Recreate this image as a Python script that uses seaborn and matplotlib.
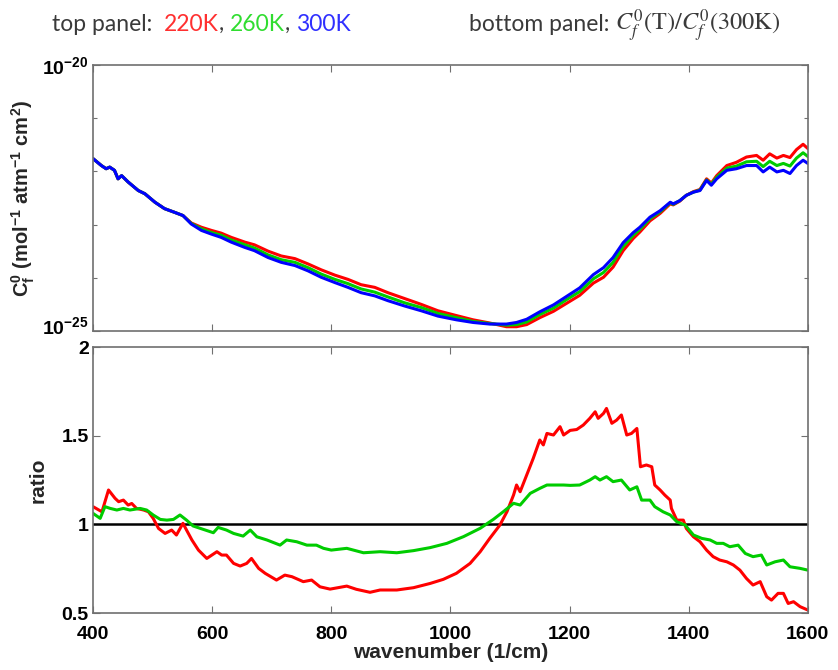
import numpy as np
import pandas as pd
import matplotlib
matplotlib.use("Agg")
import matplotlib.pyplot as plt
import matplotlib.ticker as mticker
import matplotlib.transforms as mtransforms
import seaborn as sns

# ---------------- data ----------------
# Top panel: log10 of the 300 K coefficient, and log10 offsets of 220 K / 260 K from it
wn_top = [400, 414, 422, 428, 436, 442, 448, 459, 476, 487, 504, 520, 537, 551,
          565, 582, 599, 615, 632, 655, 671, 694, 716, 739, 761, 783, 806, 828,
          850, 873, 895, 923, 951, 979, 1010, 1038, 1066, 1094, 1111, 1128, 1150,
          1173, 1195, 1217, 1240, 1257, 1273, 1290, 1307, 1318, 1335, 1352, 1369,
          1374, 1385, 1396, 1408, 1419, 1430, 1438, 1447, 1464, 1480, 1497, 1514,
          1525, 1536, 1548, 1559, 1570, 1581, 1592, 1600]
log_c300 = [-21.76, -21.89, -21.95, -21.92, -21.98, -22.14, -22.08, -22.20, -22.36,
            -22.42, -22.58, -22.70, -22.77, -22.83, -22.99, -23.11, -23.18, -23.24,
            -23.33, -23.43, -23.49, -23.62, -23.71, -23.77, -23.87, -23.99, -24.09,
            -24.18, -24.28, -24.34, -24.43, -24.53, -24.62, -24.72, -24.79, -24.84,
            -24.87, -24.87, -24.84, -24.78, -24.64, -24.51, -24.35, -24.19, -23.94,
            -23.81, -23.62, -23.34, -23.15, -23.05, -22.86, -22.74, -22.58, -22.61,
            -22.55, -22.45, -22.39, -22.36, -22.17, -22.26, -22.14, -21.98, -21.95,
            -21.89, -21.89, -22.01, -21.92, -22.01, -21.98, -22.04, -21.89, -21.79,
            -21.85]
dlog_220 = [0, 0, 0, 0, 0, 0, 0, 0, 0, 0, 0, 0, 0, 0,
            0.02, 0.06, 0.07, 0.08, 0.09, 0.10, 0.11, 0.12, 0.12, 0.13, 0.13, 0.14,
            0.14, 0.15, 0.15, 0.16, 0.15, 0.14, 0.12, 0.10, 0.08, 0.05, 0.02, -0.05,
            -0.08, -0.10, -0.11, -0.12, -0.13, -0.14, -0.16, -0.18, -0.18, -0.15,
            -0.11, -0.09, -0.07, -0.05, -0.03, -0.02, -0.01, 0.0, 0.01, 0.02, 0.03,
            0.04, 0.06, 0.09, 0.12, 0.16, 0.19, 0.22, 0.25, 0.26, 0.28, 0.30, 0.30,
            0.30, 0.28]
dlog_260 = [0, 0, 0, 0, 0, 0, 0, 0, 0, 0, 0, 0, 0, 0,
            0.01, 0.03, 0.03, 0.04, 0.04, 0.05, 0.05, 0.05, 0.05, 0.06, 0.06, 0.06,
            0.06, 0.07, 0.07, 0.07, 0.07, 0.06, 0.06, 0.05, 0.04, 0.02, 0.01, -0.02,
            -0.04, -0.05, -0.05, -0.06, -0.06, -0.07, -0.08, -0.09, -0.09, -0.07,
            -0.05, -0.04, -0.03, -0.02, -0.01, -0.01, 0.0, 0.0, 0.0, 0.01, 0.01,
            0.02, 0.03, 0.04, 0.05, 0.07, 0.08, 0.10, 0.11, 0.12, 0.13, 0.14, 0.14,
            0.14, 0.13]

# Bottom panel: ratio C(220K)/C(300K)
wn_220 = [400, 415, 426, 437, 443, 451, 459, 465, 473, 485, 493, 501, 510, 521,
          532, 540, 551, 557, 566, 577, 591, 608, 616, 624, 636, 647, 658, 666,
          678, 689, 708, 722, 734, 753, 767, 781, 798, 826, 842, 865, 882, 910,
          938, 966, 988, 1010, 1033, 1050, 1066, 1083, 1095, 1106, 1111, 1117,
          1128, 1139, 1150, 1156, 1162, 1173, 1184, 1190, 1201, 1212, 1223, 1234,
          1243, 1248, 1257, 1262, 1271, 1279, 1287, 1296, 1304, 1313, 1319, 1329,
          1338, 1343, 1352, 1360, 1369, 1371, 1380, 1391, 1396, 1408, 1419, 1430,
          1441, 1452, 1464, 1475, 1486, 1497, 1508, 1520, 1531, 1539, 1550, 1559,
          1567, 1576, 1587, 1600]
ratio_220 = [1.100, 1.071, 1.194, 1.147, 1.128, 1.137, 1.109, 1.118, 1.090, 1.081,
             1.071, 1.034, 0.977, 0.949, 0.968, 0.940, 1.006, 0.968, 0.912, 0.855,
             0.808, 0.846, 0.827, 0.827, 0.780, 0.765, 0.780, 0.808, 0.752, 0.724,
             0.686, 0.714, 0.705, 0.677, 0.686, 0.648, 0.635, 0.652, 0.634, 0.617,
             0.630, 0.630, 0.643, 0.667, 0.690, 0.724, 0.780, 0.846, 0.921, 0.996,
             1.072, 1.166, 1.222, 1.184, 1.278, 1.372, 1.476, 1.448, 1.513, 1.504,
             1.551, 1.504, 1.530, 1.535, 1.560, 1.598, 1.635, 1.598, 1.626, 1.654,
             1.570, 1.588, 1.617, 1.504, 1.513, 1.541, 1.325, 1.335, 1.325, 1.222,
             1.194, 1.165, 1.137, 1.090, 1.024, 1.024, 0.977, 0.930, 0.902, 0.855,
             0.818, 0.799, 0.789, 0.771, 0.742, 0.695, 0.658, 0.677, 0.592, 0.573,
             0.611, 0.611, 0.554, 0.564, 0.536, 0.517]

# Bottom panel: ratio C(260K)/C(300K)
wn_260 = [400, 412, 420, 429, 440, 451, 462, 479, 490, 501, 513, 524, 535, 546,
          557, 568, 585, 602, 610, 624, 636, 652, 664, 675, 692, 714, 725, 742,
          759, 775, 787, 800, 826, 854, 882, 910, 938, 966, 994, 1022, 1050, 1072,
          1089, 1106, 1117, 1134, 1150, 1162, 1173, 1190, 1201, 1217, 1234, 1243,
          1251, 1262, 1273, 1287, 1301, 1313, 1321, 1335, 1343, 1357, 1369, 1380,
          1394, 1408, 1422, 1436, 1447, 1458, 1469, 1483, 1495, 1508, 1522, 1531,
          1545, 1559, 1570, 1587, 1600]
ratio_260 = [1.062, 1.034, 1.100, 1.090, 1.081, 1.090, 1.081, 1.090, 1.081, 1.053,
             1.028, 1.024, 1.028, 1.053, 1.024, 0.991, 0.972, 0.953, 0.983, 0.968,
             0.949, 0.934, 0.968, 0.930, 0.912, 0.883, 0.912, 0.902, 0.883, 0.883,
             0.865, 0.855, 0.865, 0.840, 0.846, 0.840, 0.852, 0.869, 0.893, 0.931,
             0.978, 1.028, 1.072, 1.119, 1.109, 1.175, 1.203, 1.222, 1.222, 1.222,
             1.220, 1.222, 1.250, 1.269, 1.250, 1.269, 1.241, 1.250, 1.194, 1.212,
             1.137, 1.137, 1.100, 1.071, 1.053, 1.015, 0.996, 0.940, 0.921, 0.912,
             0.893, 0.893, 0.874, 0.883, 0.836, 0.818, 0.827, 0.771, 0.789, 0.799,
             0.761, 0.752, 0.742]

temps = ["220K", "260K", "300K"]
colors = {"220K": "#ff0000", "260K": "#00cc00", "300K": "#0000ff"}
header_colors = {"220K": "#ff3030", "260K": "#30dd30", "300K": "#3030ff"}

# ---------------- style ----------------
sns.set_theme(style="ticks")
plt.rcParams["font.family"] = ["Liberation Sans", "DejaVu Sans"]
plt.rcParams.update({
    "mathtext.fontset": "custom",
    "mathtext.rm": "Liberation Sans:bold",
    "mathtext.it": "Liberation Sans:italic:bold",
    "mathtext.bf": "Liberation Sans:bold",
    "axes.edgecolor": "#707070",
    "axes.linewidth": 1.2,
    "xtick.direction": "in",
    "ytick.direction": "in",
    "xtick.top": True,
    "ytick.right": True,
})

# ---------------- frames ----------------
base = np.array(log_c300)
top_df = pd.concat([
    pd.DataFrame({"wavenumber": wn_top, "C": 10 ** (base + np.array(dlog_220)), "T": "220K"}),
    pd.DataFrame({"wavenumber": wn_top, "C": 10 ** (base + np.array(dlog_260)), "T": "260K"}),
    pd.DataFrame({"wavenumber": wn_top, "C": 10 ** base, "T": "300K"}),
])
bot_df = pd.concat([
    pd.DataFrame({"wavenumber": wn_220, "ratio": ratio_220, "T": "220K"}),
    pd.DataFrame({"wavenumber": wn_260, "ratio": ratio_260, "T": "260K"}),
])

W, H = 838, 670
fig = plt.figure(figsize=(W / 100, H / 100), dpi=100)
ax1 = fig.add_axes([0.111, 0.506, 0.853, 0.397])
ax2 = fig.add_axes([0.111, 0.085, 0.853, 0.397])

sns.lineplot(data=top_df, x="wavenumber", y="C", hue="T", hue_order=temps,
             palette=colors, estimator=None, sort=False, legend=False,
             linewidth=2.2, ax=ax1)
ax1.set_yscale("log")
ax1.set_xlim(400, 1600)
ax1.set_ylim(1e-25, 1e-20)
ax1.yaxis.set_major_locator(mticker.FixedLocator([1e-25, 1e-20]))
ax1.yaxis.set_major_formatter(mticker.FixedFormatter([r"$\mathregular{10^{-25}}$",
                                                      r"$\mathregular{10^{-20}}$"]))
ax1.yaxis.set_minor_locator(mticker.FixedLocator([1e-24, 1e-23, 1e-22, 1e-21]))
ax1.yaxis.set_minor_formatter(mticker.NullFormatter())
ax1.xaxis.set_major_locator(mticker.MultipleLocator(200))
ax1.xaxis.set_major_formatter(mticker.NullFormatter())
ax1.set_xlabel("")
ax1.set_ylabel(r"$\mathregular{C_f^0}$ (mol$^{-1}$ atm$^{-1}$ cm$^{2}$)",
               fontsize=14.5, fontweight="bold", labelpad=4)

sns.lineplot(data=bot_df, x="wavenumber", y="ratio", hue="T", hue_order=["220K", "260K"],
             palette=colors, estimator=None, sort=False, legend=False,
             linewidth=2.2, ax=ax2)
ax2.axhline(1.0, color="black", linewidth=1.8, zorder=1)
ax2.set_xlim(400, 1600)
ax2.set_ylim(0.5, 2.0)
ax2.xaxis.set_major_locator(mticker.MultipleLocator(200))
ax2.yaxis.set_major_locator(mticker.FixedLocator([0.5, 1.0, 1.5, 2.0]))
ax2.yaxis.set_major_formatter(mticker.FixedFormatter(["0.5", "1", "1.5", "2"]))
ax2.set_xlabel("wavenumber (1/cm)", fontsize=15, fontweight="bold", labelpad=0)
ax2.set_ylabel("ratio", fontsize=15, fontweight="bold", labelpad=10)

for ax in (ax1, ax2):
    ax.tick_params(axis="both", which="major", length=5, width=0.8, color="#707070",
                   labelsize=14, labelcolor="black", pad=3)
    ax.tick_params(axis="both", which="minor", length=3, width=0.8, color="#707070")
    for lab in ax.get_xticklabels() + ax.get_yticklabels():
        lab.set_fontweight("bold")
    for sp in ax.spines.values():
        sp.set_visible(True)
ax2.tick_params(axis="x", which="major", pad=9)
ax2.tick_params(axis="y", which="major", pad=3)

# lift the lowest decade label a little so it clears the "2" of the lower panel
low_lab = ax1.yaxis.get_major_ticks()[0].label1
low_lab.set_transform(low_lab.get_transform()
                      + mtransforms.ScaledTranslation(0, 4 / 72, fig.dpi_scale_trans))

# ---------------- header line ----------------
renderer = fig.canvas.get_renderer()
hfont = dict(family=["Lato", "DejaVu Sans"], size=16.5)
base_y = 1 - 31 / H


def put_run(x_px, runs):
    """Write text runs one after another on a common baseline."""
    x = x_px / W
    for s, kw in runs:
        t = fig.text(x, base_y, s, va="baseline", ha="left", **kw)
        x = t.get_window_extent(renderer).x1 / W


grey = "#3a3a3a"
left_runs = [("top panel:  ", dict(color=grey, **hfont))]
for i, t in enumerate(temps):
    left_runs.append((t, dict(color=header_colors[t], **hfont)))
    if i < len(temps) - 1:
        left_runs.append((", ", dict(color=grey, **hfont)))
put_run(52, left_runs)

put_run(469, [
    ("bottom panel: ", dict(color=grey, **hfont)),
    (r"$C^0_f\mathrm{(T)}/C^0_f\mathrm{(300K)}$",
     dict(color=grey, size=17.5, math_fontfamily="stix")),
])

fig.savefig("out.png", dpi=100)
